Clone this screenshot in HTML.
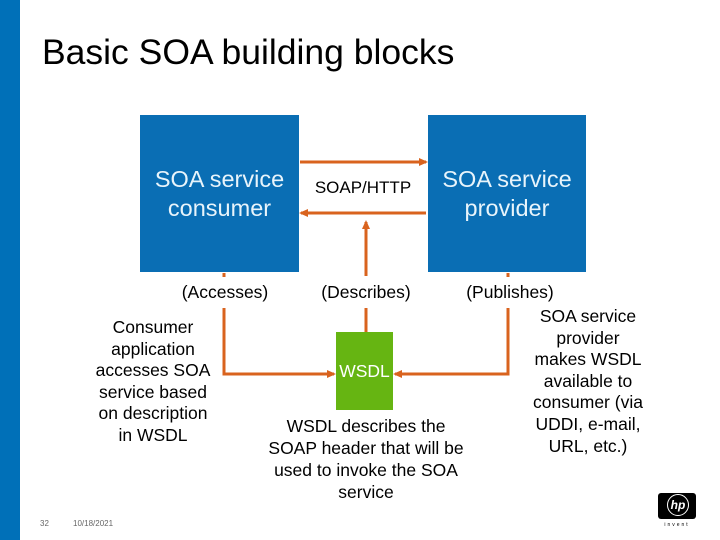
<!DOCTYPE html>
<html><head><meta charset="utf-8"><style>
body{margin:0;width:720px;height:540px;position:relative;background:#fff;font-family:"Liberation Sans",sans-serif;overflow:hidden}
.a{position:absolute}
.t{position:absolute;text-align:center;color:#000;font-size:17.5px;line-height:21.6px;white-space:nowrap}
</style></head><body>
<div class="a" style="left:0;top:0;width:20px;height:540px;background:#0070b8"></div>
<div class="a" style="left:42px;top:32px;font-size:35.5px;color:#000">Basic SOA building blocks</div>
<div class="a" style="left:140px;top:115px;width:159px;height:157px;background:#0a6eb4"></div>
<div class="a" style="left:428px;top:115px;width:158px;height:157px;background:#0a6eb4"></div>
<div class="t" style="left:130px;top:165px;width:179px;color:#e8f4fb;font-size:23.5px;line-height:29px">SOA service<br>consumer</div>
<div class="t" style="left:418px;top:165px;width:178px;color:#e8f4fb;font-size:23.5px;line-height:29px">SOA service<br>provider</div>
<div class="t" style="left:300px;top:177px;width:126px;font-size:17px">SOAP/HTTP</div>
<div class="a" style="left:336px;top:332px;width:57px;height:78px;background:#66b512"></div>
<div class="t" style="left:326px;top:361px;width:77px;color:#fff;font-size:17.5px">WSDL</div>
<svg class="a" style="left:0;top:0" width="720" height="540">
<defs><marker id="m" markerWidth="9" markerHeight="9" refX="7" refY="4.5" orient="auto" markerUnits="userSpaceOnUse"><path d="M0,0.5L9,4.5L0,8.5z" fill="#d9631e"/></marker></defs>
<g stroke="#d9631e" stroke-width="3" fill="none">
<line x1="300" y1="162" x2="426" y2="162" marker-end="url(#m)"/>
<line x1="426" y1="213" x2="301" y2="213" marker-end="url(#m)"/>
<line x1="366" y1="276" x2="366" y2="222" marker-end="url(#m)"/>
<line x1="366" y1="308" x2="366" y2="332"/>
<polyline points="224,308 224,374 334,374" marker-end="url(#m)"/>
<polyline points="508,308 508,374 395,374" marker-end="url(#m)"/>
<line x1="224" y1="273" x2="224" y2="277"/>
<line x1="508" y1="273" x2="508" y2="277"/>
</g></svg>
<div class="t" style="left:160px;top:282px;width:130px;font-size:17.5px">(Accesses)</div>
<div class="t" style="left:301px;top:282px;width:130px;font-size:17.5px">(Describes)</div>
<div class="t" style="left:445px;top:282px;width:130px;font-size:17.5px">(Publishes)</div>
<div class="t" style="left:78px;top:317px;width:150px">Consumer<br>application<br>accesses SOA<br>service based<br>on description<br>in WSDL</div>
<div class="t" style="left:246px;top:415px;width:240px;line-height:22px">WSDL describes the<br>SOAP header that will be<br>used to invoke the SOA<br>service</div>
<div class="t" style="left:508px;top:306px;width:160px">SOA service<br>provider<br>makes WSDL<br>available to<br>consumer (via<br>UDDI, e-mail,<br>URL, etc.)</div>
<div class="a" style="left:40px;top:519px;font-size:8px;color:#666">32</div>
<div class="a" style="left:73px;top:519px;font-size:8px;color:#666">10/18/2021</div>
<div class="a" style="left:658px;top:493px;width:38px;height:26px;background:#000;border-radius:3px"></div>
<div class="a" style="left:667px;top:494px;width:22px;height:22px;border:1.5px solid #fff;border-radius:50%;box-sizing:border-box;color:#fff;font-size:12px;font-style:italic;font-weight:bold;text-align:center;line-height:20px">hp</div>
<div class="a" style="left:658px;top:522px;width:38px;font-size:5px;letter-spacing:2px;text-align:center">invent</div>
</body></html>
